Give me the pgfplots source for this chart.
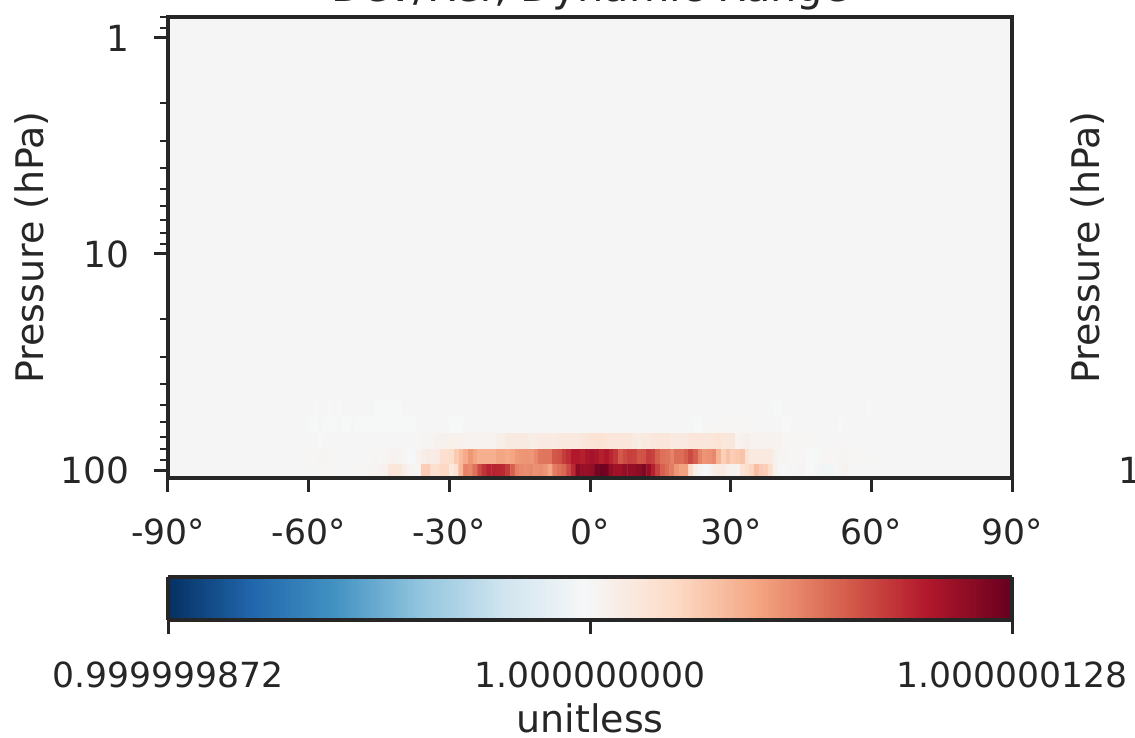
\documentclass[border=0pt]{standalone}
\usepackage{fontspec}
\setmainfont{DejaVu Sans}
\usepackage{pgfplots}
\pgfplotsset{compat=1.18}
\definecolor{ink}{HTML}{262626}
\definecolor{bgc}{HTML}{F5F5F5}
\newcommand{\fa}{\fontsize{34.6}{40}\selectfont}
\newcommand{\fb}{\fontsize{38}{44}\selectfont}
\newcommand{\fc}{\fontsize{36}{42}\selectfont}
\pgfplotsset{colormap={rdbu}{
rgb255(0cm)=(5,48,97);
rgb255(1cm)=(33,102,172);
rgb255(2cm)=(67,147,195);
rgb255(3cm)=(146,197,222);
rgb255(4cm)=(209,229,240);
rgb255(4.95cm)=(246,247,247);
rgb255(5cm)=(245,245,245);
rgb255(5.05cm)=(246,245,244);
rgb255(6cm)=(253,219,199);
rgb255(7cm)=(244,165,130);
rgb255(8cm)=(214,96,77);
rgb255(9cm)=(178,24,43);
rgb255(10cm)=(103,0,31)}}
\begin{document}
\begin{tikzpicture}
\useasboundingbox (0,0) rectangle (1135pt,737pt);
\clip (0,0) rectangle (1135pt,737pt);
\begin{axis}[
  at={(168pt,259pt)},anchor=south west,
  scale only axis,width=844pt,height=461pt,
  ymode=log,y dir=reverse,
  xmin=-90,xmax=90,ymin=0.8,ymax=108.9,
  axis on top,
  axis background/.style={fill=bgc},
  axis line style={ink,line width=3.3pt},
  tick align=outside,
  xtick pos=bottom,ytick pos=left,
  major tick length=14pt,minor tick length=8pt,
  every tick/.style={ink},
  every major tick/.append style={line width=3pt},
  every minor tick/.append style={line width=2pt},
  xtick={-90,-60,-30,0,30,60,90},
  xticklabels={-90°,-60°,-30°,0°,30°,60°,90°},
  ytick={1,10,100},yticklabels={1,10,100},
  minor ytick={0.8,0.9,2,3,4,5,6,7,8,9,20,30,40,50,60,70,80,90},
  xticklabel style={font=\fa,text=ink,yshift=-23pt},
  yticklabel style={font=\fc,text=ink,xshift=-21pt},
  title={Dev/Ref, Dynamic Range},
  title style={font=\fontsize{41.5}{46}\selectfont,text=ink,at={(0.5,1)},anchor=base,yshift=10pt},
  ylabel={Pressure (hPa)},
  ylabel style={font=\fb,text=ink,at={(-0.147,0.5)},anchor=base},
  colormap name=rdbu,
  point meta min=-100,point meta max=100,
  colorbar horizontal,
  colorbar sampled,
  colorbar style={
    at={(0,-0.2148)},anchor=north west,
    scale only axis,width=844pt,height=43pt,
    samples=257,
    axis on top,
    axis line style={ink,line width=3.3pt},
    tick align=outside,
    xtick pos=bottom,
    xtick={-100,0,100},
    xticklabels={0.999999872,1.000000000,1.000000128},
    xlabel={unitless},
    xlabel style={font=\fb,text=ink,yshift=-9pt},
    xticklabel style={font=\fa,text=ink,yshift=-24pt},
    major tick length=14pt,
    every tick/.style={ink,line width=3pt},
  },
]
\addplot[matrix plot*,mesh/cols=120,point meta=\thisrow{c}] table[row sep=\\,
  x expr={-59.5+mod(\coordindex,120)},
  y expr={10^(2.0046-0.0718*floor(\coordindex/120))}] {
c\\
0\\1\\1\\1\\1\\1\\0\\0\\0\\0\\1\\1\\0\\2\\2\\3\\4\\12\\12\\11\\6\\3\\2\\2\\25\\25\\17\\17\\21\\21\\
10\\15\\33\\50\\48\\55\\66\\72\\77\\77\\76\\75\\70\\60\\50\\48\\47\\48\\46\\47\\45\\40\\52\\55\\58\\66\\75\\90\\87\\87\\
88\\96\\98\\97\\88\\85\\85\\88\\88\\88\\90\\93\\88\\78\\68\\60\\56\\52\\44\\41\\41\\20\\6\\2\\-2\\0\\6\\8\\8\\5\\
4\\3\\14\\18\\22\\31\\26\\25\\18\\5\\1\\-2\\1\\0\\2\\2\\-1\\-1\\0\\-3\\-3\\-3\\0\\2\\3\\0\\0\\1\\0\\0\\
1\\1\\2\\2\\1\\1\\1\\0\\0\\0\\0\\0\\0\\1\\2\\1\\2\\3\\3\\2\\1\\-1\\-2\\3\\6\\8\\7\\8\\17\\17\\
18\\26\\32\\38\\44\\40\\36\\36\\36\\36\\40\\40\\38\\40\\43\\44\\45\\44\\48\\53\\54\\54\\62\\64\\70\\74\\80\\80\\78\\82\\
84\\82\\78\\81\\76\\72\\62\\66\\69\\68\\63\\64\\70\\68\\60\\55\\54\\50\\56\\56\\60\\66\\60\\50\\45\\46\\48\\35\\24\\30\\
25\\27\\29\\15\\10\\10\\10\\10\\10\\4\\2\\2\\0\\1\\1\\1\\-1\\-1\\-1\\1\\1\\1\\1\\2\\2\\1\\1\\1\\1\\1\\
0\\0\\-1\\0\\0\\0\\0\\0\\0\\0\\0\\0\\0\\0\\0\\0\\0\\0\\0\\0\\0\\0\\0\\1\\2\\2\\2\\4\\4\\4\\
5\\5\\4\\3\\3\\3\\3\\3\\3\\3\\6\\6\\9\\9\\9\\9\\9\\7\\7\\8\\8\\8\\8\\10\\10\\10\\10\\10\\11\\13\\
14\\15\\15\\13\\12\\12\\12\\12\\12\\9\\7\\10\\10\\12\\12\\12\\12\\10\\10\\9\\9\\12\\12\\12\\12\\12\\13\\14\\11\\11\\
11\\3\\4\\6\\3\\3\\3\\3\\3\\3\\3\\1\\1\\1\\1\\1\\1\\0\\0\\0\\0\\1\\0\\1\\0\\0\\0\\1\\0\\0\\
-1\\-1\\0\\-1\\-1\\-1\\0\\-1\\-1\\0\\-1\\-1\\-1\\-1\\-1\\-1\\-1\\-1\\-1\\-1\\-1\\-1\\-1\\0\\0\\0\\0\\0\\0\\0\\
-1\\-1\\-1\\0\\0\\0\\0\\0\\0\\0\\0\\0\\0\\0\\0\\0\\0\\0\\0\\0\\0\\0\\0\\0\\0\\0\\0\\0\\0\\0\\
0\\0\\0\\0\\0\\0\\0\\0\\0\\0\\0\\0\\0\\0\\0\\0\\0\\0\\0\\0\\0\\0\\-1\\-1\\0\\0\\1\\1\\1\\1\\
1\\1\\1\\1\\1\\0\\0\\0\\0\\0\\0\\-1\\-1\\0\\0\\0\\0\\0\\0\\0\\0\\0\\0\\-1\\0\\0\\0\\0\\0\\0\\
0\\-1\\0\\0\\-1\\0\\-1\\0\\0\\0\\0\\0\\0\\0\\-1\\-1\\-1\\-1\\-1\\-1\\0\\0\\0\\0\\0\\0\\0\\0\\0\\0\\
0\\0\\0\\0\\0\\0\\0\\0\\0\\0\\0\\0\\0\\0\\0\\0\\0\\0\\0\\0\\0\\0\\0\\0\\0\\0\\0\\0\\0\\0\\
0\\0\\0\\0\\0\\0\\0\\0\\0\\0\\0\\0\\0\\0\\0\\0\\0\\0\\0\\0\\0\\0\\0\\0\\0\\0\\0\\0\\0\\0\\
0\\0\\0\\0\\0\\0\\0\\0\\0\\-1\\-1\\0\\0\\0\\0\\0\\0\\0\\0\\0\\0\\0\\0\\0\\0\\0\\0\\0\\0\\-1\\
};
\end{axis}
\node[font=\fb,text=ink,rotate=90,anchor=base] at (1099pt,489.5pt) {Pressure (hPa)};
\node[font=\fc,text=ink,anchor=base west] at (1115pt,254pt) {100};
\end{tikzpicture}
\end{document}
